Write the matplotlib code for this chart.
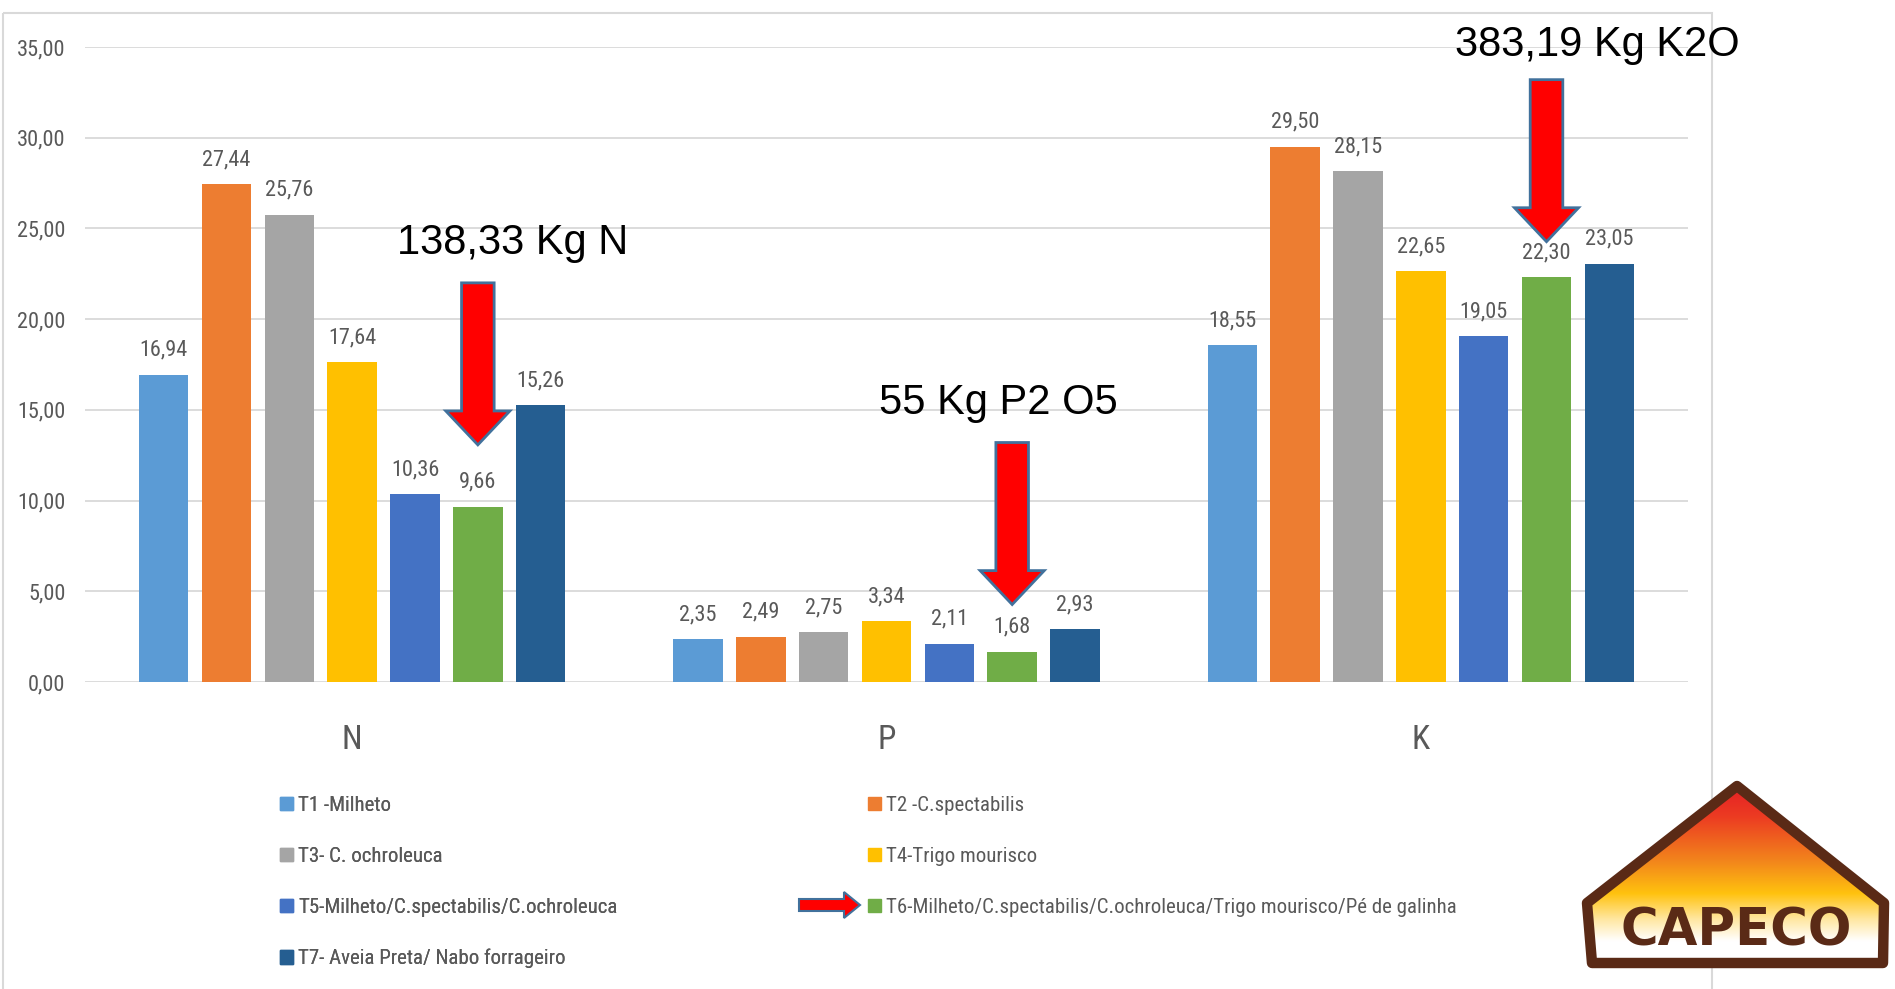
import numpy as np
import matplotlib.pyplot as plt
from matplotlib import font_manager
from matplotlib.patches import FancyArrow, Patch, Polygon, Rectangle
from matplotlib.colors import LinearSegmentedColormap

W, H = 1895, 989

nutrients = ["N", "P", "K"]
labels = [
    "T1 -Milheto",
    "T2 -C.spectabilis",
    "T3- C. ochroleuca",
    "T4-Trigo mourisco",
    "T5-Milheto/C.spectabilis/C.ochroleuca",
    "T6-Milheto/C.spectabilis/C.ochroleuca/Trigo mourisco/Pé de galinha",
    "T7- Aveia Preta/ Nabo forrageiro",
]
t1 = [16.94, 2.35, 18.55]
t2 = [27.44, 2.49, 29.50]
t3 = [25.76, 2.75, 28.15]
t4 = [17.64, 3.34, 22.65]
t5 = [10.36, 2.11, 19.05]
t6 = [9.66, 1.68, 22.30]
t7 = [15.26, 2.93, 23.05]
values = [t1, t2, t3, t4, t5, t6, t7]
colors = ["#5B9BD5", "#ED7D31", "#A5A5A5", "#FFC000", "#4472C4", "#70AD47", "#255E91"]

# totals pointed at over the T6 bar of each nutrient
totals = ["138,33 Kg N", "55 Kg P2 O5", "383,19 Kg K2O"]
total_xy = [(0.30, 24.2), (1.21, 15.4), (2.33, 35.1)]
arrow_tips = [13.07, 4.27, 24.27]

available = {f.name for f in font_manager.fontManager.ttflist}
condensed = [f for f in ["Liberation Sans Narrow", "Roboto Condensed", "Open Sans Condensed",
                         "DejaVu Sans Condensed"] if f in available]
if condensed:
    body, small, leg_size = condensed[0], 16, 15
else:
    body, small, leg_size = "Liberation Sans", 14.5, 14
plt.rcParams["font.family"] = [body, "DejaVu Sans"]

grey = "#595959"
pitch, bw = 0.1176, 0.0928


def br(v):
    return f"{v:.2f}".replace(".", ",")


fig = plt.figure(figsize=(W / 100, H / 100), dpi=100)

# background layer in pixel units: chart frame, logo, legend arrow
bg = fig.add_axes([0, 0, 1, 1], zorder=0)
bg.axis("off")
bg.add_patch(Rectangle((3, 13), 1709, 1010, fill=False, ec="#D9D9D9", lw=1.5))
bg.add_patch(FancyArrow(799, 905, 61, 0, width=12, head_width=26, head_length=16,
                        length_includes_head=True, fc="red", ec="#41719C", lw=1.5))

# CAPECO logo
house = [(1737, 786), (1884, 903), (1883, 963), (1592, 963), (1587, 903)]
grad = LinearSegmentedColormap.from_list(
    "capeco", [(0, "#E51E25"), (0.18, "#EC3B22"), (0.42, "#F2841C"), (0.6, "#FFC20E"),
               (0.74, "#FFE7A0"), (0.86, "#FFFFFF"), (1, "#FFFFFF")])
clip = Polygon(house, closed=True, fc="none", ec="none")
bg.add_patch(clip)
img = bg.imshow(np.linspace(0, 1, 256).reshape(-1, 1), cmap=grad, aspect="auto",
                extent=(1584, 1887, 967, 783), origin="upper", zorder=1)
img.set_clip_path(clip)
bg.add_patch(Polygon(house, closed=True, fill=False, ec="#5A2A16", lw=7.5, joinstyle="round", zorder=2))
bg.text(1736, 931, "CAPECO", ha="center", va="center", fontsize=37, fontweight="bold",
        family="DejaVu Sans", color="#5A2A16", zorder=3)
bg.set_xlim(0, W)
bg.set_ylim(H, 0)

ax = fig.add_axes([85 / W, 1 - 682 / H, (1688 - 85) / W, (682 - 47) / H], zorder=1)
ax.patch.set_alpha(0)

x = np.arange(len(nutrients))
handles = []
for i, (vals, col) in enumerate(zip(values, colors)):
    bars = ax.bar(x + (i - 3) * pitch, vals, width=bw, color=col, zorder=2)
    ax.bar_label(bars, labels=[br(v) for v in vals], padding=10, fontsize=small, color=grey)
    handles.append(Patch(color=col))

for k, (txt, (tx, ty), tip) in enumerate(zip(totals, total_xy, arrow_tips)):
    ax.add_patch(FancyArrow(k + 2 * pitch, tip + 8.93, 0, -8.93, width=0.061, head_width=0.12,
                            head_length=1.87, length_includes_head=True, fc="red",
                            ec="#41719C", lw=2, zorder=5, clip_on=False))
    ax.text(tx, ty, txt, ha="center", va="center", fontsize=30, family="Liberation Sans",
            color="black", zorder=6)

ax.set_xlim(-0.5, 2.5)
ax.set_ylim(0, 35)
ax.set_yticks(np.arange(0, 36, 5), [br(v) for v in np.arange(0, 36, 5)])
ax.set_xticks(x, nutrients)
ax.yaxis.grid(True, color="#D9D9D9", lw=1.3)
ax.set_axisbelow(True)
for s in ax.spines.values():
    s.set_visible(False)
ax.tick_params(axis="y", length=0, pad=14, labelsize=small, labelcolor=grey)
ax.tick_params(axis="x", length=0, pad=30, labelsize=24, labelcolor=grey)

# legend laid out row by row: odd treatments on the left, even ones on the right
leg_kw = dict(loc="upper left", frameon=False, fontsize=leg_size, labelcolor=grey, borderpad=0,
              borderaxespad=0, handlelength=0.62, handleheight=0.62, handletextpad=0.25,
              labelspacing=1.53, bbox_transform=fig.transFigure)
left = fig.legend(handles[0::2], labels[0::2], bbox_to_anchor=(280 / W, 1 - 796 / H), **leg_kw)
fig.legend(handles[1::2], labels[1::2], bbox_to_anchor=(868 / W, 1 - 796 / H), **leg_kw)
fig.add_artist(left)

fig.savefig("out.png", dpi=100)
